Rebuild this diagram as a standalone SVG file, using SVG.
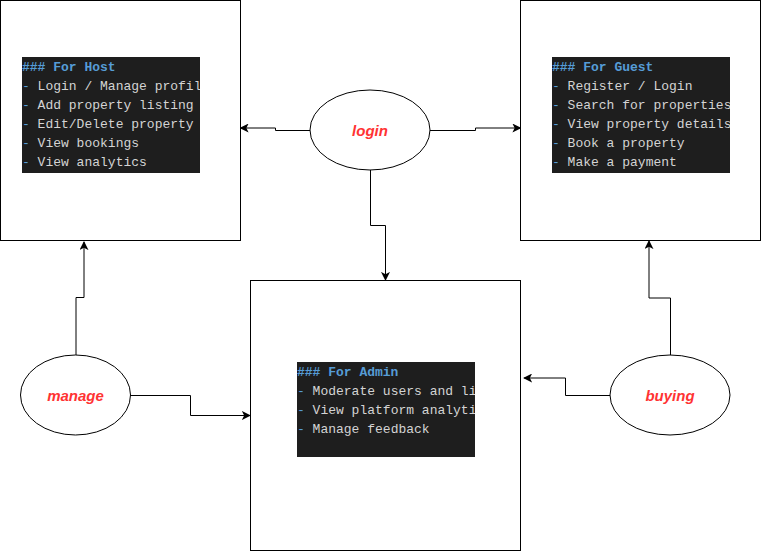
<svg xmlns="http://www.w3.org/2000/svg" width="761" height="551" viewBox="0 0 761 551">
<defs>
<style>
.box{fill:#fff;stroke:#000;stroke-width:1}
.ell{fill:#fff;stroke:#000;stroke-width:1}
.lbl{font-family:"Liberation Sans",Arial,sans-serif;font-size:15px;font-weight:bold;font-style:italic;fill:#ff3333;text-anchor:middle;dominant-baseline:central}
.code{fill:#1e1e1e}
.mono{font-family:"Liberation Mono","DejaVu Sans Mono",monospace;font-size:13px;fill:#d4d4d4;white-space:pre}
.hd{fill:#569cd6}
.hb{fill:#569cd6;font-weight:bold}
.conn{fill:none;stroke:#000;stroke-width:1}
</style>
<marker id="arr" viewBox="0 0 10 10" refX="9" refY="5" markerWidth="9" markerHeight="9" orient="auto" markerUnits="userSpaceOnUse">
<path d="M0,0 L10,5 L0,10 L2.5,5 z" fill="#000"/>
</marker>
<clipPath id="cHost"><rect x="22" y="57" width="178" height="116"/></clipPath>
<clipPath id="cGuest"><rect x="552" y="57" width="178" height="116"/></clipPath>
<clipPath id="cAdmin"><rect x="297" y="362" width="178" height="95"/></clipPath>
</defs>

<g id="host">
<rect class="box" x="0.5" y="0.5" width="240" height="240"/>
<rect class="code" x="22" y="57" width="178" height="116"/>
<g clip-path="url(#cHost)">
<text class="mono" x="22" y="71"><tspan class="hb">### For Host</tspan></text>
<text class="mono" x="22" y="90"><tspan class="hd">-</tspan> Login / Manage profile</text>
<text class="mono" x="22" y="109"><tspan class="hd">-</tspan> Add property listing</text>
<text class="mono" x="22" y="128"><tspan class="hd">-</tspan> Edit/Delete property</text>
<text class="mono" x="22" y="147"><tspan class="hd">-</tspan> View bookings</text>
<text class="mono" x="22" y="166"><tspan class="hd">-</tspan> View analytics</text>
</g>
</g>

<g id="guest">
<rect class="box" x="520.5" y="0.5" width="240" height="240"/>
<rect class="code" x="552" y="57" width="178" height="116"/>
<g clip-path="url(#cGuest)">
<text class="mono" x="552" y="71"><tspan class="hb">### For Guest</tspan></text>
<text class="mono" x="552" y="90"><tspan class="hd">-</tspan> Register / Login</text>
<text class="mono" x="552" y="109"><tspan class="hd">-</tspan> Search for properties</text>
<text class="mono" x="552" y="128"><tspan class="hd">-</tspan> View property details</text>
<text class="mono" x="552" y="147"><tspan class="hd">-</tspan> Book a property</text>
<text class="mono" x="552" y="166"><tspan class="hd">-</tspan> Make a payment</text>
</g>
</g>

<g id="admin">
<rect class="box" x="250.5" y="280.5" width="270" height="270"/>
<rect class="code" x="297" y="362" width="178" height="95"/>
<g clip-path="url(#cAdmin)">
<text class="mono" x="297" y="376"><tspan class="hb">### For Admin</tspan></text>
<text class="mono" x="297" y="395"><tspan class="hd">-</tspan> Moderate users and listings</text>
<text class="mono" x="297" y="414"><tspan class="hd">-</tspan> View platform analytics</text>
<text class="mono" x="297" y="433"><tspan class="hd">-</tspan> Manage feedback</text>
</g>
</g>

<g id="login">
<ellipse class="ell" cx="370" cy="130" rx="60" ry="40"/>
<text class="lbl" x="370" y="130">login</text>
</g>

<g id="manage">
<ellipse class="ell" cx="75.5" cy="395" rx="55" ry="40"/>
<text class="lbl" x="75.5" y="395">manage</text>
</g>

<g id="buying">
<ellipse class="ell" cx="670" cy="395" rx="60" ry="40"/>
<text class="lbl" x="670" y="395">buying</text>
</g>

<g id="connectors">
<path class="conn" marker-end="url(#arr)" d="M310,130.5 H275.5 V128 H240.5"/>
<path class="conn" marker-end="url(#arr)" d="M430,130.5 H475.5 V128 H520.5"/>
<path class="conn" marker-end="url(#arr)" d="M370.5,170 V225.5 H385.5 V280"/>
<path class="conn" marker-end="url(#arr)" d="M76,355 V297.5 H84 V242"/>
<path class="conn" marker-end="url(#arr)" d="M130.5,395.5 H190.5 V415.5 H250"/>
<path class="conn" marker-end="url(#arr)" d="M670.5,355 V298 H649 V241"/>
<path class="conn" marker-end="url(#arr)" d="M610,395.5 H565.5 V378 H524"/>
</g>
</svg>
